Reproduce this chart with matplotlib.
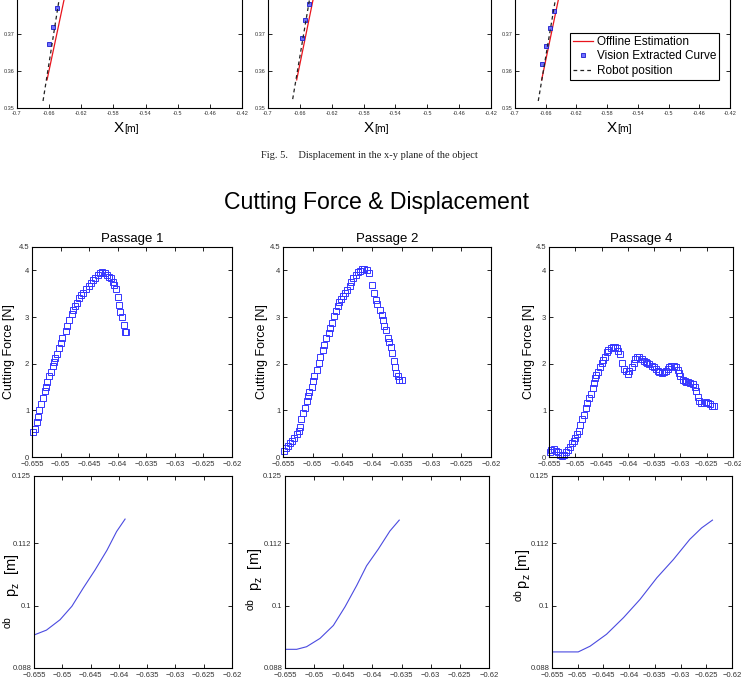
import matplotlib
matplotlib.use('Agg')
import matplotlib.pyplot as plt

plt.rcParams['font.family'] = ['Liberation Sans', 'DejaVu Sans']
plt.rcParams['mathtext.fontset'] = 'custom'
plt.rcParams['mathtext.rm'] = 'Liberation Sans'
plt.rcParams['mathtext.it'] = 'Liberation Sans:italic'

# ---- Fig. 5 (top strip, only the lower part of the x-y plots is visible)
xy_ticks_x = [-0.7, -0.66, -0.62, -0.58, -0.54, -0.5, -0.46, -0.42]
xy_ticks_y = [0.35, 0.36, 0.37]

off1_x = [-0.6626, -0.6415, -0.6310]
off1_y = [0.3576, 0.3792, 0.3900]
rob1_x = [-0.6676, -0.6477, -0.6400]
rob1_y = [0.3519, 0.3792, 0.3900]
vis1_x = [-0.6600, -0.6550, -0.6500]
vis1_y = [0.3673, 0.3720, 0.3770]

off2_x = [-0.6640, -0.6435, -0.6330]
off2_y = [0.3576, 0.3792, 0.3900]
rob2_x = [-0.6690, -0.6480, -0.6400]
rob2_y = [0.3524, 0.3792, 0.3900]
vis2_x = [-0.6577, -0.6535, -0.6485]
vis2_y = [0.3690, 0.3738, 0.3780]

off3_x = [-0.6653, -0.6436, -0.6330]
off3_y = [0.3576, 0.3792, 0.3900]
rob3_x = [-0.6697, -0.6475, -0.6400]
rob3_y = [0.3519, 0.3792, 0.3900]
vis3_x = [-0.6645, -0.6596, -0.6544, -0.6492]
vis3_y = [0.3619, 0.3668, 0.3715, 0.3762]

# ---- Cutting force & displacement
titles = ['Passage 1', 'Passage 2', 'Passage 4']
x_ticks = [-0.655, -0.65, -0.645, -0.64, -0.635, -0.63, -0.625, -0.62]
force_ticks = [0, 1, 2, 3, 4, 4.5]
pz_ticks = [0.088, 0.1, 0.112, 0.125]

f1_x = [-0.6548, -0.6545, -0.6542, -0.6539, -0.6537, -0.6534, -0.6530, -0.6528, -0.6525, -0.6523,
        -0.6521, -0.6517, -0.6514, -0.6512, -0.6510, -0.6507, -0.6503, -0.6500, -0.6497, -0.6491,
        -0.6488, -0.6485, -0.6480, -0.6478, -0.6475, -0.6471, -0.6467, -0.6464, -0.6460, -0.6456,
        -0.6451, -0.6447, -0.6443, -0.6439, -0.6435, -0.6431, -0.6427, -0.6423, -0.6419, -0.6415,
        -0.6412, -0.6409, -0.6406, -0.6403, -0.6400, -0.6398, -0.6396, -0.6392, -0.6389, -0.6387,
        -0.6386]
f1_y = [0.53, 0.61, 0.74, 0.86, 1.00, 1.14, 1.26, 1.41, 1.51, 1.61,
        1.74, 1.83, 1.94, 2.04, 2.13, 2.20, 2.34, 2.45, 2.54, 2.70,
        2.81, 2.94, 3.06, 3.15, 3.24, 3.31, 3.40, 3.48, 3.51, 3.61,
        3.66, 3.72, 3.79, 3.83, 3.90, 3.95, 3.96, 3.94, 3.91, 3.86,
        3.83, 3.76, 3.69, 3.59, 3.42, 3.26, 3.10, 3.01, 2.82, 2.68,
        2.68]

f2_x = [-0.6548, -0.6545, -0.6541, -0.6538, -0.6535, -0.6531, -0.6527, -0.6523, -0.6521, -0.6519,
        -0.6516, -0.6513, -0.6510, -0.6508, -0.6506, -0.6502, -0.6500, -0.6497, -0.6493, -0.6490,
        -0.6487, -0.6483, -0.6481, -0.6477, -0.6473, -0.6471, -0.6467, -0.6464, -0.6461, -0.6458,
        -0.6455, -0.6452, -0.6449, -0.6446, -0.6442, -0.6438, -0.6435, -0.6432, -0.6428, -0.6424,
        -0.6420, -0.6417, -0.6413, -0.6409, -0.6405, -0.6401, -0.6397, -0.6394, -0.6391, -0.6387,
        -0.6384, -0.6382, -0.6380, -0.6376, -0.6374, -0.6371, -0.6369, -0.6366, -0.6364, -0.6362,
        -0.6360, -0.6357, -0.6354, -0.6350]
f2_y = [0.13, 0.20, 0.24, 0.29, 0.34, 0.40, 0.49, 0.56, 0.65, 0.81,
        0.95, 1.06, 1.20, 1.31, 1.40, 1.51, 1.63, 1.74, 1.86, 2.02,
        2.15, 2.29, 2.40, 2.54, 2.65, 2.76, 2.88, 3.02, 3.13, 3.24,
        3.33, 3.38, 3.45, 3.52, 3.58, 3.66, 3.76, 3.84, 3.91, 3.96,
        3.99, 4.03, 4.03, 4.01, 3.94, 3.69, 3.52, 3.36, 3.28, 3.16,
        3.04, 2.94, 2.81, 2.72, 2.56, 2.47, 2.35, 2.22, 2.06, 1.93,
        1.81, 1.74, 1.65, 1.65]

f3_x = [-0.6549, -0.6546, -0.6541, -0.6537, -0.6533, -0.6530, -0.6526, -0.6522, -0.6518, -0.6514,
        -0.6510, -0.6507, -0.6503, -0.6500, -0.6496, -0.6493, -0.6491, -0.6487, -0.6484, -0.6480,
        -0.6477, -0.6474, -0.6470, -0.6467, -0.6464, -0.6462, -0.6460, -0.6456, -0.6453, -0.6450,
        -0.6447, -0.6443, -0.6440, -0.6437, -0.6433, -0.6429, -0.6424, -0.6421, -0.6418, -0.6415,
        -0.6412, -0.6407, -0.6403, -0.6399, -0.6397, -0.6393, -0.6389, -0.6386, -0.6382, -0.6378,
        -0.6374, -0.6370, -0.6366, -0.6363, -0.6359, -0.6355, -0.6351, -0.6347, -0.6343, -0.6340,
        -0.6336, -0.6332, -0.6328, -0.6324, -0.6321, -0.6317, -0.6313, -0.6309, -0.6305, -0.6303,
        -0.6300, -0.6296, -0.6292, -0.6289, -0.6285, -0.6281, -0.6277, -0.6273, -0.6270, -0.6267,
        -0.6264, -0.6260, -0.6255, -0.6252, -0.6248, -0.6244, -0.6240, -0.6236]
f3_y = [0.10, 0.15, 0.17, 0.13, 0.10, 0.04, 0.02, 0.04, 0.10, 0.16,
        0.22, 0.29, 0.34, 0.41, 0.49, 0.56, 0.69, 0.81, 0.90, 1.04,
        1.15, 1.26, 1.36, 1.47, 1.58, 1.69, 1.76, 1.83, 1.93, 2.01,
        2.08, 2.15, 2.24, 2.29, 2.34, 2.36, 2.36, 2.33, 2.28, 2.21,
        2.02, 1.88, 1.85, 1.78, 1.84, 1.93, 2.02, 2.09, 2.14, 2.14,
        2.09, 2.06, 2.04, 2.01, 1.99, 1.96, 1.92, 1.89, 1.85, 1.83,
        1.81, 1.83, 1.85, 1.88, 1.92, 1.96, 1.96, 1.92, 1.86, 1.81,
        1.74, 1.66, 1.63, 1.61, 1.60, 1.58, 1.56, 1.51, 1.41, 1.29,
        1.20, 1.16, 1.16, 1.18, 1.16, 1.13, 1.10, 1.09]

p1_x = [-0.6549, -0.6528, -0.6504, -0.6483, -0.6463, -0.6442, -0.6421, -0.6404, -0.6389]
p1_z = [0.0944, 0.0953, 0.0973, 0.0999, 0.1034, 0.1069, 0.1107, 0.1143, 0.1167]
p2_x = [-0.6550, -0.6530, -0.6513, -0.6490, -0.6467, -0.6447, -0.6427, -0.6410, -0.6390, -0.6370, -0.6354]
p2_z = [0.0916, 0.0916, 0.0921, 0.0937, 0.0962, 0.0998, 0.1039, 0.1077, 0.1109, 0.1144, 0.1165]
p3_x = [-0.6549, -0.6499, -0.6476, -0.6444, -0.6411, -0.6379, -0.6346, -0.6314, -0.6282, -0.6259, -0.6238]
p3_z = [0.0911, 0.0911, 0.0922, 0.0945, 0.0977, 0.1012, 0.1054, 0.1089, 0.1128, 0.1150, 0.1165]

W, H = 741, 681
fig = plt.figure(figsize=(W / 100, H / 100), dpi=100)


def px_axes(l, t, r, b):
    return fig.add_axes([l / W, 1 - b / H, (r - l) / W, (b - t) / H])


def matlab_style(ax, size):
    ax.tick_params(direction='in', top=True, right=True, length=3, width=0.6,
                   labelsize=size, labelcolor='#333333', pad=2)
    ax.tick_params(axis='x', pad=3)
    for s in ax.spines.values():
        s.set_linewidth(0.8)


def fmt(v):
    return ('%g' % v).replace('-', '\u2212')


# ---------- top strip (Fig. 5)
top_boxes = [(17, -40, 242, 108), (268, -40, 491, 108), (515, -40, 730, 108)]
top_data = [(off1_x, off1_y, rob1_x, rob1_y, vis1_x, vis1_y),
            (off2_x, off2_y, rob2_x, rob2_y, vis2_x, vis2_y),
            (off3_x, off3_y, rob3_x, rob3_y, vis3_x, vis3_y)]
for i, (box, d) in enumerate(zip(top_boxes, top_data)):
    ax = px_axes(*box)
    ax.plot(d[0], d[1], '-', color='#e8141c', lw=0.9, label='Offline Estimation')
    ax.plot(d[4], d[5], 's', ms=2.4, mfc='#7070ff', mec='#1a1acc', mew=0.6,
            label='Vision Extracted Curve')
    ax.plot(d[2], d[3], '--', color='#222222', lw=0.9, dashes=(3, 2.5), label='Robot position')
    ax.set_xlim(-0.7, -0.42)
    ax.set_ylim(0.35, 0.39)
    ax.set_xticks(xy_ticks_x)
    ax.set_xticklabels([('%g' % v) for v in xy_ticks_x])
    ax.set_yticks(xy_ticks_y)
    ax.set_yticklabels(['%g' % v for v in xy_ticks_y])
    matlab_style(ax, 4)
    ax.tick_params(axis='x', pad=2)
    ax.annotate('X', xy=(0.5, 0), xycoords='axes fraction', xytext=(-4, -9),
                textcoords='offset points', ha='right', va='top', fontsize=11)
    ax.annotate('[m]', xy=(0.5, 0), xycoords='axes fraction', xytext=(-4, -11.5),
                textcoords='offset points', ha='left', va='top', fontsize=7.5)
    if i == 2:
        leg = ax.legend(loc='upper left', bbox_to_anchor=(0.256, 0.507), fontsize=8.5,
                        handlelength=1.7, handletextpad=0.3, borderpad=0.25,
                        labelspacing=0.2, fancybox=False, framealpha=1,
                        edgecolor='black', borderaxespad=0)
        leg.get_frame().set_linewidth(0.8)

fig.text(369 / W, 1 - 155 / H, 'Fig. 5.    Displacement in the x-y plane of the object',
         ha='center', va='center', fontsize=7.5, family='Liberation Serif', color='#222222')
fig.text(376 / W, 1 - 202 / H, 'Cutting Force & Displacement',
         ha='center', va='center', fontsize=16.6)

# ---------- force row
force_boxes = [(32, 247, 232, 457), (283, 247, 491, 457), (549, 247, 733, 457)]
force_lab_x = [-0.085, -0.072, -0.076]
forces = [(f1_x, f1_y), (f2_x, f2_y), (f3_x, f3_y)]
for box, (fx, fy), title, lx in zip(force_boxes, forces, titles, force_lab_x):
    ax = px_axes(*box)
    ax.plot(fx, fy, 's', ms=3.8, mfc='none', mec='#3535ff', mew=0.7, clip_on=False)
    ax.set_xlim(-0.655, -0.62)
    ax.set_ylim(0, 4.5)
    ax.set_xticks(x_ticks)
    ax.set_xticklabels([fmt(v) for v in x_ticks])
    ax.set_yticks(force_ticks)
    ax.set_yticklabels([fmt(v) for v in force_ticks])
    matlab_style(ax, 5.5)
    ax.set_title(title, fontsize=9.5, pad=3.5)
    ax.set_ylabel('Cutting Force [N]', fontsize=9)
    ax.yaxis.set_label_coords(lx, 0.5)

# ---------- displacement row
pz_boxes = [(34, 476, 232, 668), (285, 476, 489, 668), (552, 476, 732, 668)]
pz_lab_pos = [(-0.06, 0.40), (-0.1, 0.46), (-0.105, 0.48)]
pz_labels = [r'$^{\mathrm{ob}}\ \ \ \ \ \mathrm{p}_{\mathrm{z}}\ \ $[m]',
             r'$^{\mathrm{ob}}\ \ \mathrm{p}_{\mathrm{z}}\ \ $[m]',
             r'$^{\mathrm{ob}}\,\mathrm{p}_{\mathrm{z}}$ [m]']
pz = [(p1_x, p1_z), (p2_x, p2_z), (p3_x, p3_z)]
for box, (px, pzv), lab, (lx, ly) in zip(pz_boxes, pz, pz_labels, pz_lab_pos):
    ax = px_axes(*box)
    ax.plot(px, pzv, '-', color='#4a4ae0', lw=0.8)
    ax.set_xlim(-0.655, -0.62)
    ax.set_ylim(0.088, 0.125)
    ax.set_xticks(x_ticks)
    ax.set_xticklabels([fmt(v) for v in x_ticks])
    ax.set_yticks(pz_ticks)
    ax.set_yticklabels(['%g' % v for v in pz_ticks])
    matlab_style(ax, 5.5)
    ax.set_ylabel(lab, fontsize=10.5)
    ax.yaxis.set_label_coords(lx, ly)

fig.savefig('out.png', dpi=100)
